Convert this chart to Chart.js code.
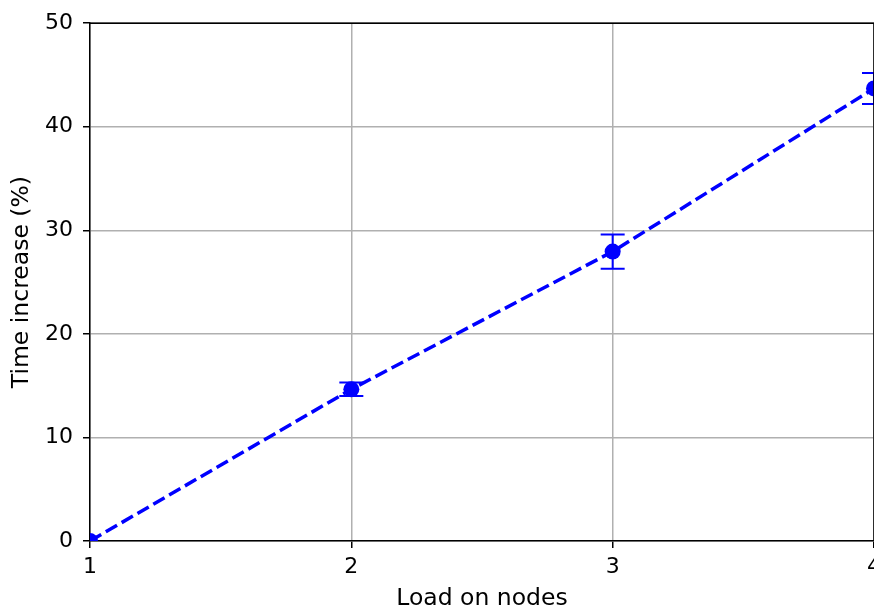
<!DOCTYPE html>
<html lang="en">
<head>
    <meta charset="UTF-8">
    <title>Time increase vs load</title>
    <script src="https://cdn.jsdelivr.net/npm/chart.js"></script>
    <style>
        html, body { margin: 0; padding: 0; background: #fff; }
        /* the reference is cut off at the right and bottom, so the canvas is bigger than the window */
        #wrap { width: 874px; height: 609px; overflow: hidden; position: relative; }
        #loadChart { display: block; }
    </style>
</head>
<body>
    <div id="wrap">
        <canvas id="loadChart" width="960" height="640"></canvas>
    </div>

<script>
    // data
    var loads = [1, 2, 3, 4];
    var timeIncrease = [0, 14.65, 27.95, 43.7];
    var timeError = [0, 0.65, 1.65, 1.5];
    var xTicks = [1, 2, 3, 4];
    var yTicks = [0, 10, 20, 30, 40, 50];

    var blue = '#0000ff';
    var fontFamily = '"DejaVu Sans", sans-serif';

    // vertical error bars with caps, drawn through the chart's own scales
    var errorBars = {
        id: 'errorBars',
        beforeDatasetsDraw: function(chart) {
            var ctx = chart.ctx;
            var xs = chart.scales.x, ys = chart.scales.y;
            ctx.save();
            ctx.strokeStyle = blue;
            ctx.lineWidth = 2;
            for (var i = 0; i < loads.length; i++) {
                if (!timeError[i]) continue;
                var px = xs.getPixelForValue(loads[i]);
                var top = ys.getPixelForValue(timeIncrease[i] + timeError[i]);
                var bot = ys.getPixelForValue(timeIncrease[i] - timeError[i]);
                ctx.beginPath();
                ctx.moveTo(px, top); ctx.lineTo(px, bot);
                ctx.moveTo(px - 12, top); ctx.lineTo(px + 12, top);
                ctx.moveTo(px - 12, bot); ctx.lineTo(px + 12, bot);
                ctx.stroke();
            }
            ctx.restore();
        }
    };

    // top and right spines like matplotlib
    var frame = {
        id: 'frame',
        afterDraw: function(chart) {
            var a = chart.chartArea, ctx = chart.ctx;
            ctx.save();
            ctx.strokeStyle = '#000';
            ctx.lineWidth = 1.5;
            ctx.beginPath();
            ctx.moveTo(a.left, a.top); ctx.lineTo(a.right, a.top); ctx.lineTo(a.right, a.bottom);
            ctx.stroke();
            ctx.restore();
        }
    };

    var points = loads.map(function(l, i) { return { x: l, y: timeIncrease[i] }; });

    new Chart(document.getElementById('loadChart').getContext('2d'), {
        type: 'line',
        data: {
            datasets: [{
                data: points,
                borderColor: blue,
                backgroundColor: blue,
                borderWidth: 3.5,
                borderDash: [13, 5.3],
                pointRadius: 8,
                pointBorderWidth: 0,
                pointBackgroundColor: blue,
                fill: false,
                tension: 0
            }]
        },
        options: {
            responsive: false,
            devicePixelRatio: 1,
            animation: false,
            layout: { padding: { left: 0, top: 18, right: 86, bottom: 0 } },
            plugins: { legend: { display: false }, tooltip: { enabled: false } },
            scales: {
                x: {
                    type: 'linear',
                    min: 1, max: 4,
                    afterBuildTicks: function(scale) { scale.ticks = xTicks.map(function(v) { return { value: v }; }); },
                    afterFit: function(scale) { scale.height = 99; },
                    grid: { color: '#b0b0b0', lineWidth: 1.5, tickColor: '#000', tickLength: 7, tickWidth: 1.5 },
                    border: { color: '#000', width: 1.5 },
                    ticks: { color: '#000', padding: 6, font: { family: fontFamily, size: 22 }, maxRotation: 0 },
                    title: { display: true, text: 'Load on nodes', color: '#000', font: { family: fontFamily, size: 23.5 }, padding: { top: 0, bottom: 27 } }
                },
                y: {
                    min: 0, max: 50,
                    afterBuildTicks: function(scale) { scale.ticks = yTicks.map(function(v) { return { value: v }; }); },
                    afterFit: function(scale) { scale.width = 90; },
                    grid: { color: '#b0b0b0', lineWidth: 1.5, tickColor: '#000', tickLength: 7, tickWidth: 1.5 },
                    border: { color: '#000', width: 1.5 },
                    ticks: { color: '#000', padding: 10, font: { family: fontFamily, size: 22 } },
                    title: { display: true, text: 'Time increase (%)', color: '#000', font: { family: fontFamily, size: 23.5 }, padding: { top: 8, bottom: 0 } }
                }
            }
        },
        plugins: [errorBars, frame]
    });
</script>
</body>
</html>
